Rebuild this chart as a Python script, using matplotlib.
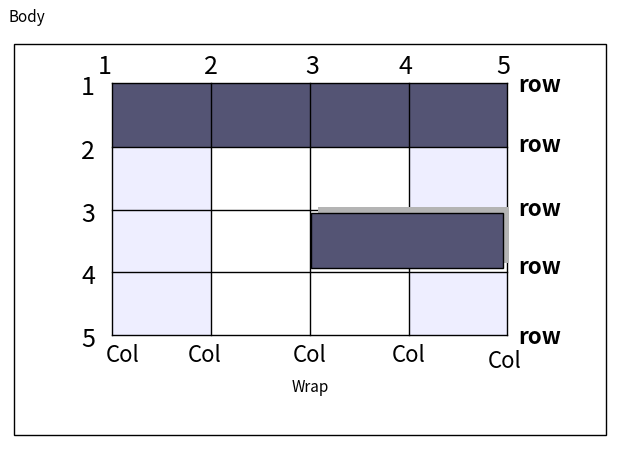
import matplotlib
matplotlib.use('Agg')
import matplotlib.pyplot as plt
from matplotlib.patches import Rectangle

plt.rcParams['font.family'] = ['Noto Sans CJK KR', 'DejaVu Sans']

# grid lines (pixel positions in the diagram)
col_lines = [112, 211, 310, 409, 507]
row_lines = [83, 147, 210, 272, 335]
col_numbers = ['1', '2', '3', '4', '5']
row_numbers = ['1', '2', '3', '4', '5']
col_num_x = [105, 211, 312, 405, 503]
row_label_y = [86, 145, 210, 267, 337]
col_label_pos = [(123, 356), (205, 356), (310, 356), (409, 355), (505, 362)]
light_cells = [(0, 1), (0, 2), (0, 3), (3, 1), (3, 3)]  # (col, row) index

DARK = '#545474'
LIGHT = '#EEEEFF'

fig = plt.figure(figsize=(6.27, 4.5), dpi=100)
ax = fig.add_axes([0, 0, 1, 1])
ax.set_xlim(0, 627)
ax.set_ylim(450, 0)
ax.axis('off')

ax.text(8, 18, 'Body', fontsize=11, va='center', ha='left')
ax.add_patch(Rectangle((14, 44), 592, 391, fill=False, edgecolor='black', lw=1))

for c, r in light_cells:
    x0, x1 = col_lines[c], col_lines[c + 1]
    y0, y1 = row_lines[r], row_lines[r + 1]
    ax.add_patch(Rectangle((x0, y0), x1 - x0, y1 - y0, color=LIGHT, lw=0, zorder=1))

ax.add_patch(Rectangle((col_lines[0], row_lines[0]), col_lines[-1] - col_lines[0],
                       row_lines[1] - row_lines[0], color=DARK, lw=0, zorder=1))

for x in col_lines:
    ax.plot([x, x], [row_lines[0], row_lines[-1]], color='black', lw=1, zorder=2)
for y in row_lines:
    ax.plot([col_lines[0], col_lines[-1]], [y, y], color='black', lw=1, zorder=2)

# wrapped item with shadow
ax.add_patch(Rectangle((318, 207), 191, 56, facecolor='#B4B4B4', lw=0, zorder=3))
ax.add_patch(Rectangle((311, 213), 192, 55, facecolor=DARK, edgecolor='black',
                       lw=1, zorder=4))

for x, t in zip(col_num_x, col_numbers):
    ax.text(x, 67, t, fontsize=18, ha='center', va='center', fontweight='medium')
for y, t in zip(row_lines, row_numbers):
    ax.text(88, y + 5, t, fontsize=18, ha='center', va='center', fontweight='medium')
for y in row_label_y:
    ax.text(518, y, 'row', fontsize=16, ha='left', va='center', fontweight='bold')
for x, y in col_label_pos:
    ax.text(x, y, 'Col', fontsize=16, ha='center', va='center', fontweight='medium')

ax.text(310, 388, 'Wrap', fontsize=11, ha='center', va='center')

fig.savefig('out.png', dpi=100)
